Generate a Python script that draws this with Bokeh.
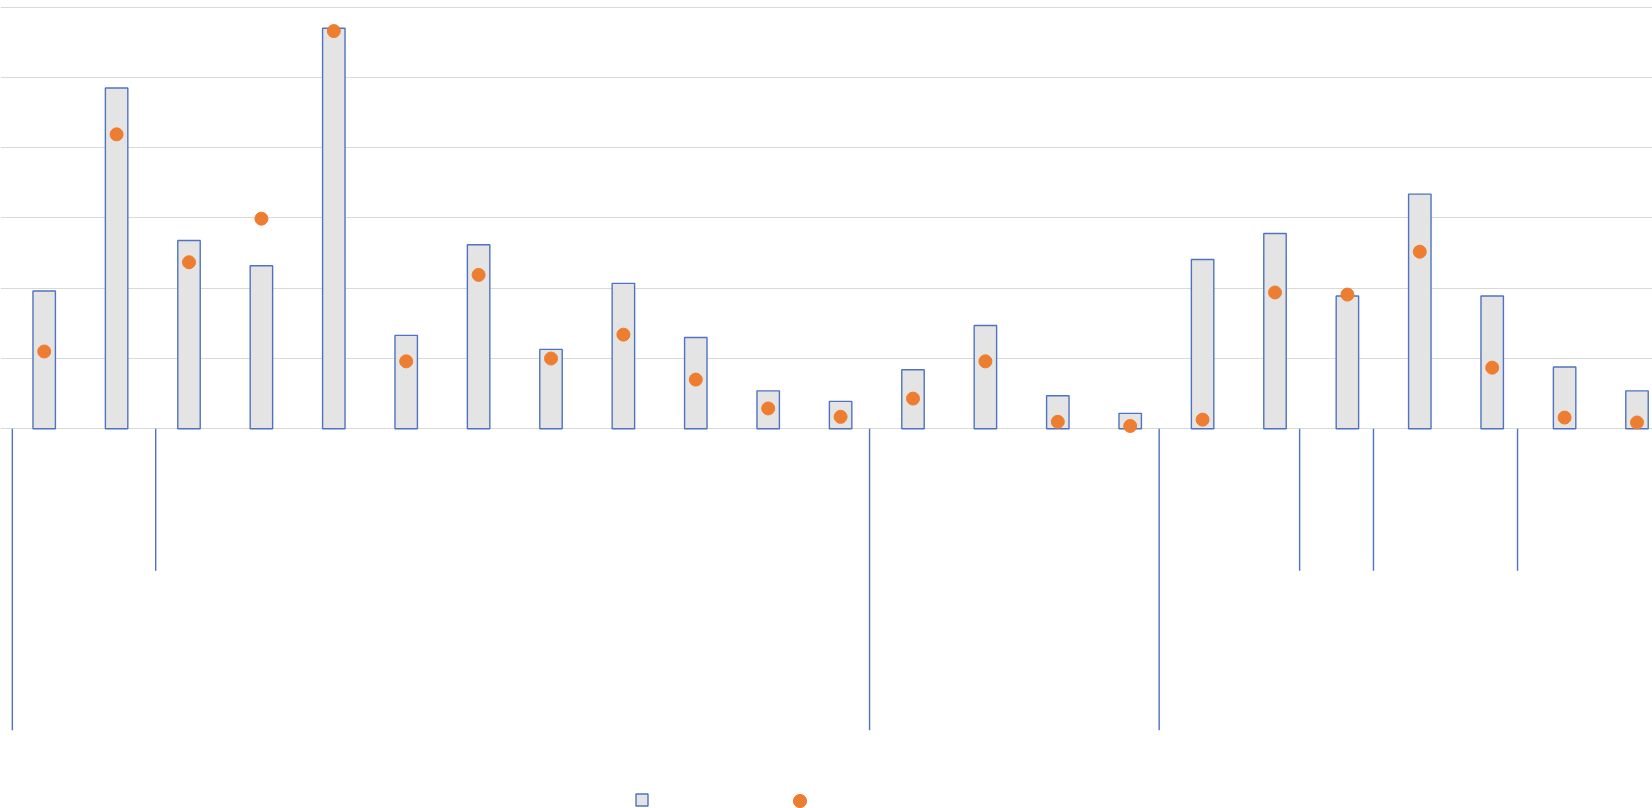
from bokeh.plotting import figure
from bokeh.models import Range1d, Grid, FixedTicker, Legend, LegendItem, ColumnDataSource
from bokeh.embed import file_html
from bokeh.resources import INLINE

# ---- data ----
bar_values = [19.6, 48.5, 26.8, 23.2, 57.0, 13.3, 26.2, 11.3, 20.7, 13.0, 5.4, 3.9,
              8.4, 14.7, 4.7, 2.2, 24.1, 27.8, 18.9, 33.4, 18.9, 8.8, 5.4]
dot_values = [11.0, 41.9, 23.7, 29.9, 56.6, 9.6, 21.9, 10.0, 13.4, 7.0, 2.9, 1.7,
              4.3, 9.6, 1.0, 0.4, 1.3, 19.4, 19.1, 25.2, 8.7, 1.6, 0.9]
# category-axis group separators (position in category units, depth below axis)
sep_positions = [-0.44, 1.54, 11.40, 15.40, 17.34, 18.36, 20.35]
sep_depths = [-42.9, -20.2, -42.9, -42.9, -20.2, -20.2, -20.2]
grid_ticks = [0, 10, 20, 30, 40, 50, 60]

idx = list(range(len(bar_values)))
src = ColumnDataSource(dict(x=idx, bar=bar_values, dot=dot_values))
sep_src = ColumnDataSource(dict(x=sep_positions, y1=sep_depths, y0=[0] * len(sep_positions)))

W, H = 1652, 808
x_start = -0.6036
x_end = x_start + W / 72.4
y_scale = 7.027
y_end = 60.95
y_start = y_end - H / y_scale

p = figure(width=W, height=H, x_range=Range1d(x_start, x_end), y_range=Range1d(y_start, y_end),
           output_backend="svg", toolbar_location=None, min_border=0,
           x_axis_location=None, y_axis_location=None, outline_line_color=None,
           background_fill_color="white", border_fill_color="white")
p.xgrid.visible = False
p.ygrid.visible = False

grid = Grid(dimension=1, ticker=FixedTicker(ticks=grid_ticks),
            grid_line_color="#D9D9D9", grid_line_width=1.2)
p.add_layout(grid)

bars = p.vbar(x="x", top="bar", bottom=0, width=0.31, source=src,
              fill_color="#E4E4E4", line_color="#4F73C0", line_width=1.4)
dots = p.scatter(x="x", y="dot", source=src, size=13, marker="circle",
                 fill_color="#ED7D31", line_color="#ED7D31")
p.segment(x0="x", y0="y0", x1="x", y1="y1", source=sep_src,
          line_color="#4F73C0", line_width=1.4)

common = dict(orientation="horizontal", padding=0, margin=0, spacing=0, label_standoff=0,
              label_width=0, label_height=0, label_text_font_size="1px", label_text_alpha=0,
              border_line_alpha=0, background_fill_alpha=0)
leg1 = Legend(items=[LegendItem(label=" ", renderers=[bars])], location=(634, 1),
              glyph_width=15, glyph_height=15, **common)
leg2 = Legend(items=[LegendItem(label=" ", renderers=[dots])], location=(783, -9),
              glyph_width=33, glyph_height=33, **common)
p.add_layout(leg1)
p.add_layout(leg2)

open("out.html", "w").write(file_html(p, INLINE))
